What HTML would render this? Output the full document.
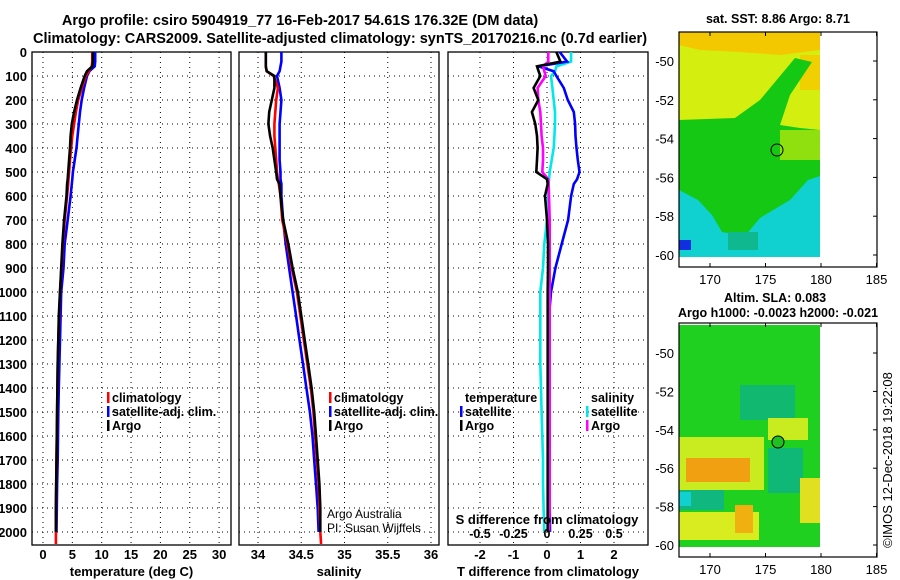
<!DOCTYPE html>
<html><head><meta charset="utf-8"><style>
body{margin:0;background:#fff;}
svg{display:block;font-family:"Liberation Sans",sans-serif;}
.b{font-weight:bold;}
</style></head><body>
<svg id="c" width="900" height="580" viewBox="0 0 900 580">
<text x="300" y="25" text-anchor="middle" class="b" font-size="14.5">Argo profile: csiro 5904919_77 16-Feb-2017 54.61S 176.32E (DM data)</text>
<text x="340" y="43" text-anchor="middle" class="b" font-size="14.5">Climatology: CARS2009. Satellite-adjusted climatology: synTS_20170216.nc (0.7d earlier)</text>
<text x="778" y="23" text-anchor="middle" class="b" font-size="12.5">sat. SST: 8.86 Argo: 8.71</text>
<text x="775" y="302" text-anchor="middle" class="b" font-size="12.5">Altim. SLA: 0.083</text>
<text x="778" y="317" text-anchor="middle" class="b" font-size="12.5">Argo h1000: -0.0023 h2000: -0.021</text>
<text transform="translate(892,460) rotate(-90)" text-anchor="middle" font-size="13">©IMOS 12-Dec-2018 19:22:08</text>

<g>
<rect x="679" y="32" width="141" height="225" fill="#d4ee10"/>
<polygon points="679,32 820,32 820,50 780,55 740,52 700,50 679,45" fill="#f4c800"/>
<rect x="800" y="55" width="20" height="35" fill="#f0d000"/>
<polygon points="679,120 735,118 760,100 795,58 812,62 790,95 780,125 800,128 820,130 820,257 679,257" fill="#14c814"/>
<rect x="780" y="130" width="40" height="30" fill="#90e010"/>
<polygon points="679,190 698,200 712,215 722,232 745,236 760,218 790,200 808,180 820,176 820,257 679,257" fill="#10d0d0"/>
<rect x="728" y="232" width="30" height="18" fill="#10b890"/>
<rect x="679" y="240" width="12" height="10" fill="#1030e0"/>
<circle cx="777" cy="150" r="6" fill="none" stroke="#000" stroke-width="1"/>
<rect x="679" y="32" width="198" height="235" fill="none" stroke="#000" stroke-width="1.2"/>
</g>
<g>
<rect x="679" y="325" width="141" height="222" fill="#20d020"/>
<rect x="740" y="385" width="55" height="35" fill="#10b870"/>
<rect x="679" y="437" width="85" height="53" fill="#c8ec20"/>
<rect x="686" y="458" width="64" height="24" fill="#f0a010"/>
<rect x="679" y="490" width="45" height="20" fill="#10b880"/>
<rect x="679" y="492" width="12" height="14" fill="#10d0d0"/>
<rect x="679" y="512" width="80" height="28" fill="#d8ec20"/>
<rect x="735" y="505" width="18" height="28" fill="#f0b010"/>
<rect x="768" y="418" width="40" height="22" fill="#c8ec20"/>
<rect x="768" y="448" width="35" height="45" fill="#10b878"/>
<rect x="800" y="478" width="20" height="45" fill="#e0e020"/>
<circle cx="778" cy="442" r="6" fill="#20c020" stroke="#000" stroke-width="1"/>
<rect x="679" y="323" width="198" height="234" fill="none" stroke="#000" stroke-width="1.2"/>
</g>
<g id="maxes"></g>
<g id="plots"></g>
</svg>
<script>
const depths=[0,40,60,80,100,150,200,250,300,350,400,450,500,530,550,600,700,800,900,1000,1100,1200,1300,1400,1500,1600,1700,1800,1900,2000,2050];
const tempArgo=[8.5,8.5,8.4,7.5,7.1,6.4,5.8,5.3,4.9,4.7,4.6,4.45,4.3,4.2,4.1,4.0,3.6,3.3,3.1,2.9,2.7,2.6,2.5,2.45,2.4,2.35,2.3,2.25,2.2,2.2,null];
const tempClim=[8.4,8.4,8.3,7.8,7.3,6.6,6.0,5.6,5.3,5.0,4.8,4.6,4.45,4.35,4.3,4.1,3.7,3.35,3.15,2.9,2.75,2.6,2.5,2.45,2.4,2.35,2.3,2.25,2.2,2.2,2.2];
const tempSat=[8.9,8.9,8.8,7.9,7.5,7.0,6.6,6.3,6.1,5.9,5.7,5.4,5.1,5.0,4.9,4.7,4.2,3.7,3.5,3.1,3.0,2.9,2.8,2.7,2.6,2.55,2.5,2.4,2.35,2.3,null];
const salArgo=[34.09,34.09,34.09,34.10,34.19,34.19,34.16,34.13,34.12,34.14,34.17,34.19,34.21,34.22,34.25,34.26,34.29,34.35,34.40,34.46,34.50,34.54,34.58,34.62,34.65,34.67,34.69,34.71,34.72,34.72,null];
const salClim=[34.09,34.09,34.09,34.10,34.18,34.23,34.21,34.20,34.19,34.19,34.20,34.21,34.22,34.23,34.24,34.26,34.28,34.34,34.39,34.45,34.49,34.53,34.57,34.61,34.64,34.66,34.68,34.70,34.71,34.72,34.73];
const salSat=[34.27,34.27,34.26,34.25,34.22,34.25,34.27,34.26,34.25,34.25,34.25,34.25,34.26,34.26,34.27,34.27,34.29,34.32,34.36,34.40,34.44,34.48,34.52,34.56,34.60,34.63,34.65,34.67,34.69,34.70,null];
const tDiffArgo=[0.28,0.4,-0.3,-0.25,-0.2,-0.4,-0.26,-0.45,-0.35,-0.3,-0.28,-0.3,-0.32,0,0.02,-0.06,0,0.03,0.03,0.02,0.02,0.02,0.02,0.02,0.02,0.02,0.02,0.02,0.02,0.02,null];
const tDiffSat=[0.38,0.6,-0.25,0.2,0.28,0.5,0.62,0.8,0.84,0.85,0.88,0.92,0.97,0.9,0.8,0.72,0.63,0.44,0.25,0.12,0.06,0.05,0.05,0.05,0.05,0.06,0.06,0.07,0.08,0.09,null];
const sDiffArgo=[0.01,0.01,-0.03,-0.02,-0.01,-0.07,-0.065,-0.05,-0.045,-0.04,-0.03,-0.03,-0.035,0.01,0.012,0.015,0.02,0.02,0.02,0.02,0.02,0.02,0.02,0.02,0.02,0.02,0.02,0.02,0.02,0.015,null];
const sDiffSat=[0.18,0.18,0.07,0.06,0.03,0.04,0.05,0.06,0.06,0.055,0.05,0.035,0.02,0.015,0.012,0.01,0,-0.02,-0.03,-0.05,-0.05,-0.05,-0.05,-0.045,-0.04,-0.035,-0.03,-0.03,-0.025,-0.02,null];
const depthTicks=[0,100,200,300,400,500,600,700,800,900,1000,1100,1200,1300,1400,1500,1600,1700,1800,1900,2000];
const tempTicks=[0,5,10,15,20,25,30];
const salTicks=[34,34.5,35,35.5,36];
const tdTicks=[-2,-1,0,1,2];
const sdTickLabels=["-0.5","-0.25","0","0.25","0.5"];
const lonTicks=[170,175,180,185];
const latTicks=[-50,-52,-54,-56,-58,-60];

const NS="http://www.w3.org/2000/svg";
const root=document.getElementById('plots');
const maxes=document.getElementById('maxes');
function mk(tag,at,parent){const e=document.createElementNS(NS,tag);for(const k in at)e.setAttribute(k,at[k]);(parent||root).appendChild(e);return e;}
const TOP=52,BOT=545;
const yD=d=>TOP+d*0.24;
const panels=[
 {x0:32,x1:231,f:v=>43+v*5.87,ticks:tempTicks,lab:String,title:'temperature (deg C)',name:'temperature-panel'},
 {x0:239,x1:439,f:v=>258+(v-34)*86.5,ticks:salTicks,lab:String,title:'salinity',name:'salinity-panel'},
 {x0:448,x1:648,f:v=>547+v*33.5,ticks:tdTicks,lab:String,title:'T difference from climatology',name:'difference-panel'}
];
panels.forEach((p,pi)=>{
 const g=mk('g',{});
 
 
 depthTicks.forEach(d=>{
  mk('line',{x1:p.x0,x2:p.x1,y1:yD(d),y2:yD(d),stroke:'#000','stroke-width':1,'stroke-dasharray':'1,4'},g);
 });
 p.ticks.forEach(t=>{
  const x=p.f(t);
  mk('line',{x1:x,x2:x,y1:TOP,y2:BOT,stroke:'#000','stroke-width':1,'stroke-dasharray':'1,4'},g);
  const tx=mk('text',{x:x,y:559,'text-anchor':'middle','font-size':13,'class':'b'},g);
  tx.textContent=p.lab(t);
  
  
 });
 const tt=mk('text',{x:(p.x0+p.x1)/2,y:576,'text-anchor':'middle','font-size':13,'class':'b'},g);
 tt.textContent=p.title;
 
 
 mk('rect',{x:p.x0,y:TOP,width:p.x1-p.x0,height:BOT-TOP,fill:'none',stroke:'#000','stroke-width':1.3},g);
});
depthTicks.forEach(d=>{
 const t=mk('text',{x:27,y:yD(d)+5,'text-anchor':'end','font-size':13,'class':'b'});
 t.textContent=d;
 
 
});
function series(vals,f,color,name){
 let pts=[];
 vals.forEach((v,i)=>{if(v!==null)pts.push(f(v).toFixed(1)+','+yD(depths[i]).toFixed(1));});
 const l=mk('polyline',{points:pts.join(' '),fill:'none',stroke:color,'stroke-width':2.6,'stroke-linejoin':'miter'});
 
 
}
const fT=panels[0].f,fS=panels[1].f,fD=panels[2].f,fSD=v=>547+v*134;
series(tempSat,fT,'#0000ff','temp-satellite-line');
series(tempClim,fT,'#ff0000','temp-climatology-line');
series(tempArgo,fT,'#000000','temp-argo-line');
series(salSat,fS,'#0000ff','sal-satellite-line');
series(salClim,fS,'#ff0000','sal-climatology-line');
series(salArgo,fS,'#000000','sal-argo-line');
series(sDiffSat,fSD,'#00e8e8','sdiff-satellite-line');
series(tDiffSat,fD,'#0000ff','tdiff-satellite-line');
series(sDiffArgo,fSD,'#ff00ff','sdiff-argo-line');
series(tDiffArgo,fD,'#000000','tdiff-argo-line');

function legend(x,y,items,name){
 const g=mk('g',{});
 
 
 items.forEach((it,i)=>{
  const yy=y+i*14;
  if(it[0])mk('rect',{x:x,y:yy-10,width:2.5,height:11,fill:it[0]},g);
  const t=mk('text',{x:x+5,y:yy,'font-size':12.5,'class':'b'},g);
  t.textContent=it[1];
 });
}
legend(107,402,[['#ff0000','climatology'],['#0000ff','satellite-adj. clim.'],['#000000','Argo']],'temperature-legend');
legend(329,402,[['#ff0000','climatology'],['#0000ff','satellite-adj. clim.'],['#000000','Argo']],'salinity-legend');
legend(460,402,[[null,'temperature'],['#0000ff','satellite'],['#000000','Argo']],'tdiff-legend');
legend(586,402,[[null,'salinity'],['#00e8e8','satellite'],['#ff00ff','Argo']],'sdiff-legend');
let t=mk('text',{x:327,y:518,'font-size':12});t.textContent='Argo Australia';


t=mk('text',{x:327,y:532,'font-size':12});t.textContent='PI: Susan Wijffels';


t=mk('text',{x:547,y:524,'text-anchor':'middle','font-size':13,'class':'b'});t.textContent='S difference from climatology';


sdTickLabels.forEach((s,i)=>{
 const tx=mk('text',{x:fD(tdTicks[i]),y:538,'text-anchor':'middle','font-size':12.5,'class':'b'});
 tx.textContent=s;
 
 
});
// map axes
[[32,267,61,255],[323,557,353,545]].forEach((m,mi)=>{
 const lonX=v=>710+(v-170)*11.1;
 const latY=v=>m[2]+(-50-v)*(m[3]-m[2])/10;
 lonTicks.forEach(v=>{
  const x=lonX(v);
  mk('line',{x1:x,x2:x,y1:m[1],y2:m[1]-4,stroke:'#000'},maxes);
  mk('line',{x1:x,x2:x,y1:m[0],y2:m[0]+4,stroke:'#000'},maxes);
  const tx=mk('text',{x:x,y:m[1]+17,'text-anchor':'middle','font-size':13},maxes);
  tx.textContent=v;
  
  
 });
 latTicks.forEach(v=>{
  const y=latY(v);
  mk('line',{x1:873,x2:877,y1:y,y2:y,stroke:'#000'},maxes);
  const tx=mk('text',{x:674,y:y+5,'text-anchor':'end','font-size':13},maxes);
  tx.textContent=v;
  
  
 });
});
</script>
</body></html>
